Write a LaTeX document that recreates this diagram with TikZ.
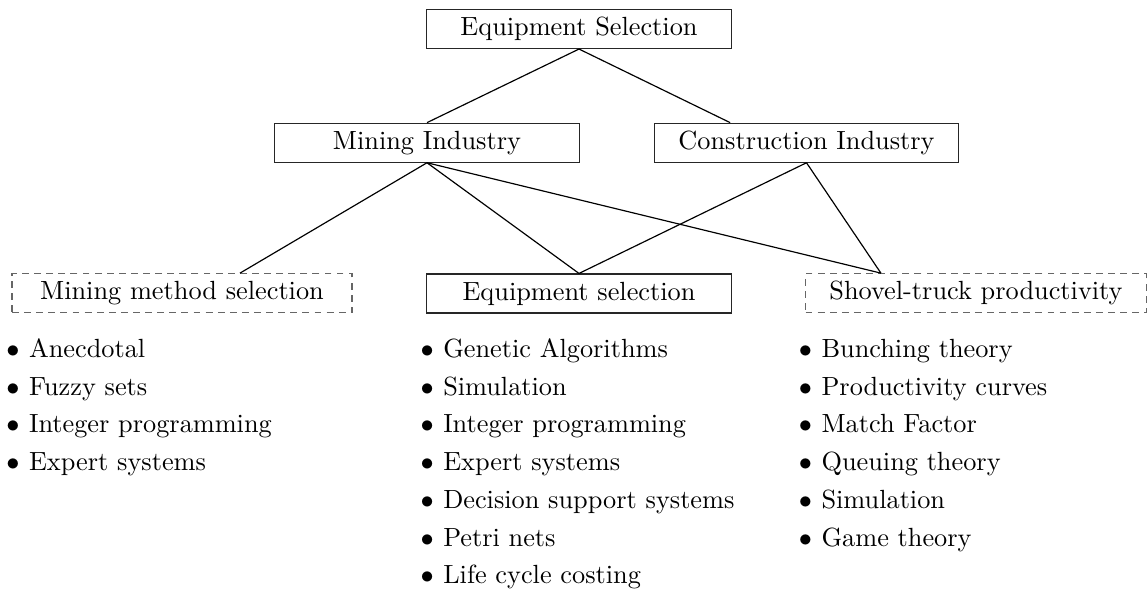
\documentclass[tikz,border=0pt]{standalone}
\usetikzlibrary{calc}
\begin{document}
\begin{tikzpicture}[x=0.3802pt,y=-0.3802pt,
  box/.style={draw=black!85, line width=0.45pt, inner sep=0pt, minimum height=14.8pt, text height=6.9pt, text depth=1.95pt},
  solidbox/.style={box, minimum width=115.7pt},
  dashbox/.style={box, draw=black!60, dash pattern=on 2.6pt off 2pt, minimum width=129.6pt},
  item/.style={anchor=base west, inner sep=0pt},
  link/.style={line width=0.45pt, black}]
\useasboundingbox (0,0) rectangle (1148,589);

\node[solidbox] (top) at (579,29) {Equipment Selection};
\node[solidbox] (MI) at (427,142.7) {Mining Industry};
\node[solidbox] (CI) at (806.5,142.7) {Construction Industry};
\node[dashbox, minimum width=129.2pt] (MMS) at (182,293.2) {Mining method selection};
\node[solidbox] (EqS) at (579,293.5) {Equipment selection};
\node[dashbox] (STP) at (976,293.2) {Shovel-truck productivity};

\coordinate (CIin) at ($(CI.north west)!0.25!(CI.north east)$);
\coordinate (MMSin) at ($(MMS.north west)!0.67!(MMS.north east)$);
\coordinate (STPin) at ($(STP.north west)!0.222!(STP.north east)$);

\draw[link] (top.south) -- (MI.north);
\draw[link] (top.south) -- (CIin);
\draw[link] (MI.south) -- (MMSin);
\draw[link] (MI.south) -- (EqS.north);
\draw[link] (MI.south) -- (STPin);
\draw[link] (CI.south) -- (EqS.north);
\draw[link] (CI.south) -- (STPin);

\foreach \t [count=\i from 0] in {Anecdotal, Fuzzy sets, Integer programming, Expert systems}
  \node[item] (L\i) at (5.9,357.5+37.7*\i) {$\bullet$\hspace{3.6pt}\t};
\foreach \t [count=\i from 0] in {Genetic Algorithms, Simulation, Integer programming, Expert systems, Decision support systems, Petri nets, Life cycle costing}
  \node[item] (M\i) at (420.1,357.5+37.7*\i) {$\bullet$\hspace{3.6pt}\t};
\foreach \t [count=\i from 0] in {Bunching theory, Productivity curves, Match Factor, Queuing theory, Simulation, Game theory}
  \node[item] (R\i) at (798.4,357.5+37.7*\i) {$\bullet$\hspace{3.6pt}\t};
\end{tikzpicture}
\end{document}
